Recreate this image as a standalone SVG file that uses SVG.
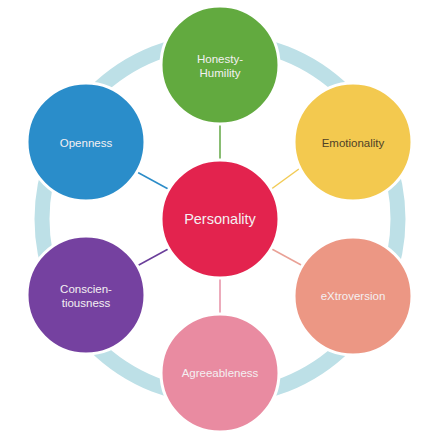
<svg xmlns="http://www.w3.org/2000/svg" width="440" height="440" viewBox="0 0 440 440">
<style>
.ring{fill:none;stroke:#bde0e7;stroke-width:15}
.node{stroke:#ffffff;stroke-width:3}
.lbl{font-family:"Liberation Sans","Open Sans",sans-serif;font-size:11.5px;text-anchor:middle;fill:#f4f0f2}
.conn line{stroke-width:1.5}
</style>
<rect width="440" height="440" fill="#ffffff"/>
<circle class="ring" cx="220" cy="219" r="178"/>
<g id="connectors" class="conn">
<line x1="220" y1="123" x2="220" y2="161" stroke="#62a744"/>
<line x1="303" y1="166" x2="270" y2="190" stroke="#f2cb55"/>
<line x1="137" y1="172" x2="170" y2="190" stroke="#2b8cc8"/>
<line x1="137" y1="266" x2="170" y2="248" stroke="#6a3e9a"/>
<line x1="303" y1="266" x2="270" y2="248" stroke="#e9a196"/>
<line x1="220" y1="277" x2="220" y2="315" stroke="#e68fa5"/>
</g>
<g id="honesty">
<circle class="node" cx="220" cy="65" r="59" fill="#62aa3f"/>
<text class="lbl" x="220" y="63">Honesty-</text>
<text class="lbl" x="220" y="77">Humility</text>
</g>
<g id="emotionality">
<circle class="node" cx="353" cy="142" r="59" fill="#f3c94f"/>
<text class="lbl" x="353" y="147" style="fill:#4f4127">Emotionality</text>
</g>
<g id="openness">
<circle class="node" cx="86" cy="142" r="59" fill="#2a8dca"/>
<text class="lbl" x="86" y="147">Openness</text>
</g>
<g id="conscientiousness">
<circle class="node" cx="86" cy="295" r="59" fill="#7541a0"/>
<text class="lbl" x="86" y="293">Conscien-</text>
<text class="lbl" x="86" y="307">tiousness</text>
</g>
<g id="extroversion">
<circle class="node" cx="353" cy="296" r="59" fill="#ec9784"/>
<text class="lbl" x="353" y="300">eXtroversion</text>
</g>
<g id="agreeableness">
<circle class="node" cx="220" cy="373" r="59" fill="#e98ba1"/>
<text class="lbl" x="220" y="377">Agreeableness</text>
</g>
<g id="personality">
<circle class="node" cx="220" cy="219" r="59" fill="#e3234e"/>
<text class="lbl" x="220" y="224" style="font-size:14.5px">Personality</text>
</g>
</svg>
